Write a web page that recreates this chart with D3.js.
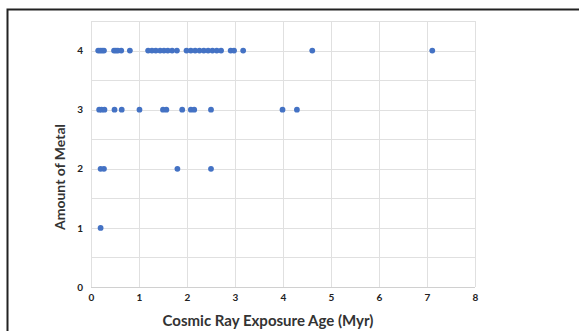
<!DOCTYPE html>
<html>
<head>
<meta charset="utf-8">
<script src="https://cdn.jsdelivr.net/npm/d3@7"></script>
<style>
  body { margin: 0; background: #fff; }
  svg { display: block; font-family: Lato, "Open Sans", sans-serif; }
</style>
</head>
<body>
<div id="chart"></div>
<script>
// exposure ages (Myr) grouped by amount of metal
const metal4Ages = [0.15, 0.19, 0.23, 0.27, 0.48, 0.52, 0.56, 0.63, 0.81,
  1.19, 1.27, 1.35, 1.44, 1.52, 1.60, 1.69, 1.79,
  1.99, 2.08, 2.17, 2.26, 2.35, 2.44, 2.53, 2.62, 2.71,
  2.91, 2.98, 3.17, 4.61, 7.11]
const metal3Ages = [0.17, 0.22, 0.28, 0.49, 0.64, 1.01, 1.50, 1.57, 1.90, 2.08, 2.15, 2.50, 3.99, 4.29]
const metal2Ages = [0.20, 0.27, 1.80, 2.50]
const metal1Ages = [0.20]
const metalLevels = [4, 3, 2, 1]
const xTicks = [0, 1, 2, 3, 4, 5, 6, 7, 8]
const yTicks = [0, 1, 2, 3, 4]

const width = 579, height = 331
const svg = d3.select('#chart').append('svg').attr('width', width).attr('height', height)

// outer frame
svg.append('rect')
  .attr('x', 7.5).attr('y', 9.5).attr('width', 600).attr('height', 400)
  .attr('fill', 'none').attr('stroke', '#222').attr('stroke-width', 2)

const plot = { left: 91, right: 475, top: 21, bottom: 287 }

const x = d3.scaleLinear().domain([0, 8]).range([plot.left, plot.right])
const y = d3.scaleLinear().domain([0, 4.5]).range([plot.bottom, plot.top])

// gridlines
const grid = svg.append('g')
grid.selectAll('.vgrid')
  .data(xTicks)
  .enter().append('line')
  .attr('x1', d => x(d) + 0.5).attr('x2', d => x(d) + 0.5)
  .attr('y1', plot.top).attr('y2', plot.bottom)
  .attr('stroke', '#e0e0e0')
grid.selectAll('.hgrid')
  .data(d3.range(0, 4.51, 0.5))
  .enter().append('line')
  .attr('x1', plot.left).attr('x2', plot.right)
  .attr('y1', d => Math.round(y(d)) + 0.5).attr('y2', d => Math.round(y(d)) + 0.5)
  .attr('stroke', d => d === 0 ? '#d0d0d0' : '#e0e0e0')

// axes (labels only)
const xAxis = d3.axisBottom(x).tickValues(xTicks).tickFormat(d3.format('d')).tickSize(0).tickPadding(7)
const yAxis = d3.axisLeft(y).tickValues(yTicks).tickFormat(d3.format('d')).tickSize(0).tickPadding(8)

svg.append('g')
  .attr('transform', `translate(0, ${plot.bottom})`)
  .call(xAxis)
  .call(g => g.select('.domain').remove())
  .selectAll('text')
  .attr('font-size', 10).attr('font-weight', 'bold').attr('fill', '#222')
  .attr('font-family', 'Lato, sans-serif')

svg.append('g')
  .attr('transform', `translate(${plot.left}, 0)`)
  .call(yAxis)
  .call(g => g.select('.domain').remove())
  .selectAll('text')
  .attr('font-size', 10).attr('font-weight', 'bold').attr('fill', '#222')
  .attr('font-family', 'Lato, sans-serif')

// points
const points = []
const ageLists = [metal4Ages, metal3Ages, metal2Ages, metal1Ages]
metalLevels.forEach((lvl, i) => {
  ageLists[i].forEach(a => points.push({ age: a, metal: lvl }))
})

svg.append('g').selectAll('circle')
  .data(points)
  .enter().append('circle')
  .attr('cx', d => x(d.age))
  .attr('cy', d => y(d.metal))
  .attr('r', 2.9)
  .attr('fill', '#4472C4')

// axis titles
svg.append('text')
  .attr('x', 268).attr('y', 326)
  .attr('text-anchor', 'middle')
  .attr('font-size', 15).attr('font-weight', 'bold').attr('fill', '#333')
  .text('Cosmic Ray Exposure Age (Myr)')

svg.append('text')
  .attr('transform', 'translate(65, 177) rotate(-90)')
  .attr('text-anchor', 'middle')
  .attr('font-size', 14).attr('font-weight', 'bold').attr('fill', '#333')
  .text('Amount of Metal')
</script>
</body>
</html>
